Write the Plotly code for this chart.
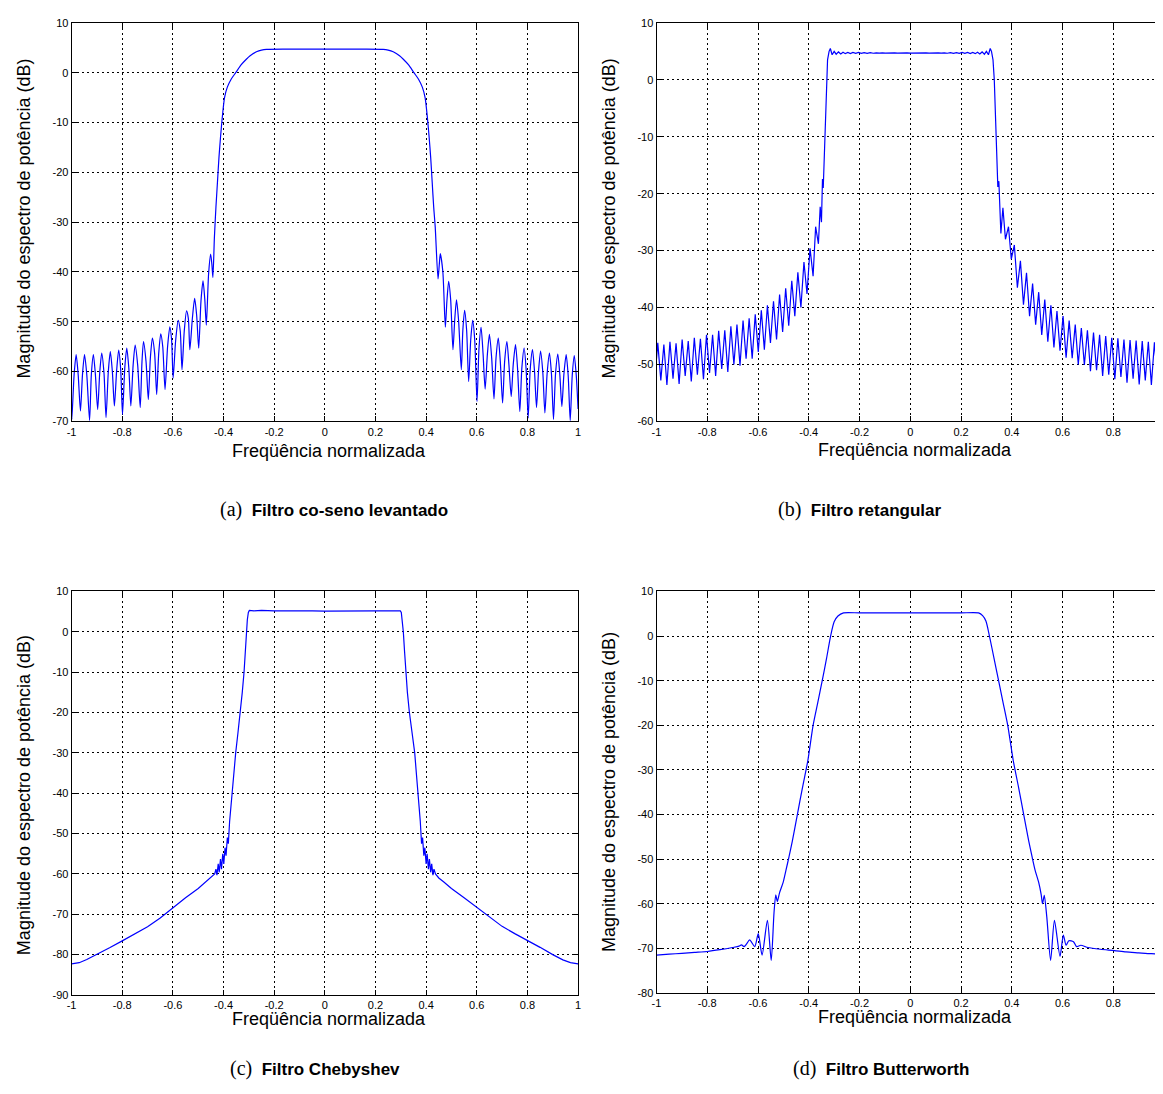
import plotly.graph_objects as go

# page is 1163x1094; the browser body has an 8px margin, so the figure is sized to fit exactly
OFF = 8
W, H = 1163 - OFF, 1094 - 2 * OFF

# ---------------- data ----------------
xticks = [-1, -0.8, -0.6, -0.4, -0.2, 0, 0.2, 0.4, 0.6, 0.8, 1]
xticktext = ["-1", "-0.8", "-0.6", "-0.4", "-0.2", "0", "0.2", "0.4", "0.6", "0.8", "1"]

# (a) raised cosine
a_x = [-1.000, -0.999, -0.990, -0.982, -0.974, -0.965, -0.957, -0.949, -0.940, -0.929,
       -0.922, -0.914, -0.906, -0.897, -0.889, -0.881, -0.872, -0.864, -0.855, -0.847,
       -0.839, -0.831, -0.822, -0.814, -0.806, -0.799, -0.790, -0.782, -0.774, -0.766,
       -0.757, -0.749, -0.739, -0.729, -0.722, -0.716, -0.706, -0.697, -0.689, -0.681,
       -0.672, -0.664, -0.656, -0.648, -0.640, -0.631, -0.621, -0.612, -0.605, -0.599,
       -0.589, -0.579, -0.571, -0.564, -0.555, -0.546, -0.539, -0.533, -0.523, -0.514,
       -0.506, -0.498, -0.489, -0.481, -0.474, -0.468, -0.459, -0.451, -0.446, -0.442,
       -0.436, -0.430, -0.424, -0.418, -0.412, -0.405, -0.396, -0.385, -0.370, -0.352,
       -0.330, -0.310, -0.295, -0.270, -0.250, -0.230, -0.150, 0.000, 0.150, 0.230,
       0.250, 0.270, 0.295, 0.310, 0.330, 0.352, 0.370, 0.385, 0.396, 0.405,
       0.412, 0.418, 0.424, 0.430, 0.436, 0.447, 0.452, 0.456, 0.466, 0.476,
       0.482, 0.489, 0.497, 0.506, 0.513, 0.520, 0.528, 0.539, 0.545, 0.552,
       0.560, 0.568, 0.576, 0.584, 0.592, 0.601, 0.609, 0.617, 0.625, 0.633,
       0.642, 0.650, 0.659, 0.668, 0.676, 0.685, 0.693, 0.702, 0.710, 0.719,
       0.727, 0.736, 0.744, 0.753, 0.761, 0.770, 0.778, 0.787, 0.795, 0.803,
       0.811, 0.820, 0.828, 0.836, 0.844, 0.852, 0.861, 0.869, 0.878, 0.887,
       0.895, 0.903, 0.911, 0.920, 0.928, 0.936, 0.944, 0.953, 0.961, 0.969,
       0.977, 0.985, 0.993, 1.000]
a_y = [-68.5, -69.6, -60.6, -56.6, -60.6, -67.9, -60.6, -56.6, -60.6, -69.8,
       -60.6, -56.6, -60.6, -67.6, -60.3, -56.3, -60.3, -69.2, -60.0, -56.0,
       -60.0, -66.9, -59.7, -55.7, -59.7, -68.6, -59.3, -55.3, -59.3, -66.9,
       -58.7, -54.7, -58.7, -67.2, -58.0, -54.0, -58.0, -65.6, -57.3, -53.3,
       -56.4, -64.6, -56.4, -52.4, -55.0, -63.6, -55.0, -51.0, -53.7, -61.3,
       -53.7, -49.7, -51.8, -59.6, -51.8, -47.8, -49.3, -55.6, -49.3, -45.3,
       -48.8, -55.3, -45.8, -41.8, -45.5, -50.7, -40.4, -36.4, -38.5, -41.1,
       -33.0, -27.0, -22.0, -17.0, -13.0, -9.0, -5.0, -2.9, -1.3, 0.0,
       1.6, 2.7, 3.4, 4.2, 4.55, 4.7, 4.75, 4.75, 4.75, 4.7,
       4.55, 4.2, 3.4, 2.7, 1.6, 0.0, -1.3, -2.9, -5.0, -9.0,
       -13.0, -17.0, -22.0, -27.0, -31.0, -41.4, -38.5, -36.3, -39.9, -51.1,
       -45.9, -41.9, -45.6, -55.6, -49.6, -45.6, -49.6, -59.6, -51.7, -47.7,
       -51.7, -62.0, -53.7, -49.7, -53.7, -66.0, -55.1, -51.1, -56.5, -63.5,
       -56.5, -52.5, -57.3, -65.5, -57.3, -53.3, -58.0, -66.3, -58.0, -54.0,
       -58.6, -65.0, -58.6, -54.6, -59.3, -68.0, -59.3, -55.3, -59.6, -69.3,
       -59.6, -55.6, -59.9, -67.2, -59.9, -55.9, -60.3, -68.3, -60.3, -56.3,
       -60.5, -69.6, -60.5, -56.5, -60.6, -67.0, -60.6, -56.6, -60.8, -69.8,
       -60.8, -56.8, -60.8, -67.5]

# (b) rectangular
b_x = [-1.000, -0.995, -0.983, -0.971, -0.959, -0.947, -0.935, -0.923, -0.911, -0.899,
       -0.887, -0.875, -0.863, -0.851, -0.839, -0.827, -0.815, -0.803, -0.791, -0.779,
       -0.767, -0.755, -0.743, -0.731, -0.719, -0.707, -0.695, -0.683, -0.671, -0.659,
       -0.647, -0.635, -0.623, -0.611, -0.599, -0.587, -0.575, -0.563, -0.551, -0.539,
       -0.527, -0.515, -0.503, -0.491, -0.479, -0.467, -0.455, -0.443, -0.431, -0.419,
       -0.407, -0.395, -0.383, -0.373, -0.362, -0.355, -0.350, -0.346, -0.343, -0.339,
       -0.335, -0.331, -0.326, -0.320, -0.315, -0.308, -0.300, -0.292, -0.283, -0.274,
       -0.265, -0.256, -0.246, -0.236, -0.226, -0.215, -0.204, -0.193, -0.182, -0.170,
       -0.158, -0.146, -0.134, -0.122, -0.110, -0.098, -0.086, -0.074, -0.062, -0.050,
       -0.038, -0.026, -0.013, 0.000, 0.013, 0.026, 0.038, 0.050, 0.062, 0.074,
       0.086, 0.098, 0.110, 0.122, 0.134, 0.146, 0.158, 0.170, 0.182, 0.193,
       0.204, 0.215, 0.226, 0.236, 0.246, 0.256, 0.265, 0.274, 0.283, 0.292,
       0.300, 0.308, 0.315, 0.320, 0.326, 0.331, 0.336, 0.341, 0.345, 0.349,
       0.357, 0.365, 0.375, 0.387, 0.398, 0.410, 0.422, 0.434, 0.446, 0.458,
       0.470, 0.482, 0.494, 0.506, 0.518, 0.530, 0.542, 0.554, 0.566, 0.578,
       0.590, 0.602, 0.614, 0.626, 0.638, 0.650, 0.662, 0.674, 0.686, 0.698,
       0.710, 0.722, 0.734, 0.746, 0.758, 0.770, 0.782, 0.794, 0.806, 0.818,
       0.830, 0.842, 0.854, 0.866, 0.878, 0.890, 0.902, 0.914, 0.926, 0.938,
       0.950, 0.962, 0.974, 0.986, 0.998]
b_y = [-49.0, -46.2, -52.8, -46.5, -53.6, -46.0, -52.5, -46.3, -53.4, -45.6,
       -52.0, -45.9, -53.0, -45.3, -51.8, -45.5, -52.6, -44.8, -51.5, -44.8,
       -52.0, -44.1, -50.8, -44.0, -51.3, -43.3, -50.0, -43.0, -50.2, -42.3,
       -49.0, -41.9, -49.0, -41.2, -47.8, -40.5, -47.4, -39.6, -46.2, -38.9,
       -45.6, -37.7, -44.3, -36.6, -43.2, -35.3, -41.5, -33.8, -40.0, -32.0,
       -37.6, -29.6, -34.5, -25.8, -28.8, -22.3, -25.0, -17.4, -19.0, -13.0,
       -6.0, 0.0, 3.5, 5.0, 5.5, 4.4, 5.0, 4.5, 4.9, 4.55,
       4.85, 4.6, 4.8, 4.6, 4.8, 4.65, 4.8, 4.65, 4.78, 4.66,
       4.76, 4.67, 4.75, 4.68, 4.75, 4.68, 4.74, 4.69, 4.74, 4.69,
       4.73, 4.7, 4.73, 4.7, 4.73, 4.7, 4.73, 4.69, 4.74, 4.69,
       4.74, 4.68, 4.75, 4.68, 4.75, 4.67, 4.76, 4.66, 4.78, 4.65,
       4.8, 4.65, 4.8, 4.6, 4.8, 4.6, 4.85, 4.55, 4.9, 4.5,
       5.0, 4.4, 5.5, 5.0, 3.5, 0.0, -6.0, -13.0, -18.8, -17.8,
       -27.0, -22.5, -28.0, -25.8, -31.5, -29.0, -36.5, -31.8, -39.5, -33.9,
       -41.5, -35.8, -43.0, -37.3, -44.8, -38.6, -46.0, -39.6, -47.0, -40.6,
       -47.6, -41.5, -48.8, -42.3, -48.9, -43.0, -50.0, -43.6, -50.1, -44.0,
       -51.2, -44.4, -51.0, -44.8, -52.0, -45.0, -51.8, -45.3, -52.6, -45.4,
       -52.2, -45.6, -53.2, -45.7, -52.5, -45.8, -53.5, -45.9, -52.8, -46.0,
       -53.6, -46.1, -52.6, -46.1, -53.0]

# (c) Chebyshev
c_x = [-1.00, -0.97, -0.94, -0.90, -0.85, -0.80, -0.75, -0.70, -0.65, -0.60,
       -0.55, -0.50, -0.47, -0.45, -0.435, -0.430, -0.426, -0.421, -0.417, -0.412,
       -0.408, -0.403, -0.399, -0.394, -0.390, -0.385, -0.381, -0.376, -0.368, -0.360,
       -0.352, -0.343, -0.334, -0.326, -0.319, -0.314, -0.310, -0.306, -0.302, -0.298,
       -0.28, -0.25, -0.20, -0.15, -0.10, -0.05, 0.00, 0.05, 0.10, 0.15,
       0.20, 0.25, 0.28, 0.298, 0.302, 0.306, 0.310, 0.315, 0.319, 0.326,
       0.334, 0.344, 0.355, 0.362, 0.370, 0.377, 0.382, 0.386, 0.391, 0.395,
       0.400, 0.404, 0.409, 0.413, 0.418, 0.422, 0.427, 0.431, 0.437, 0.45,
       0.47, 0.50, 0.55, 0.60, 0.65, 0.70, 0.75, 0.80, 0.85, 0.90,
       0.94, 0.97, 1.00]
c_y = [-82.3, -82.0, -81.2, -80.0, -78.3, -76.6, -74.9, -73.1, -70.9, -68.3,
       -65.9, -63.6, -62.0, -61.0, -60.0, -58.8, -60.3, -57.5, -59.6, -56.3,
       -58.8, -55.0, -57.5, -53.5, -55.5, -51.0, -52.5, -47.0, -41.0, -35.5,
       -30.0, -25.0, -20.0, -15.0, -10.0, -5.0, 0.0, 3.0, 4.8, 5.3,
       5.2, 5.3, 5.2, 5.25, 5.15, 5.2, 5.15, 5.2, 5.15, 5.25,
       5.2, 5.2, 5.25, 5.2, 4.8, 3.0, 0.0, -5.0, -10.0, -15.0,
       -20.0, -25.0, -30.0, -35.5, -41.0, -47.0, -52.5, -51.0, -55.5, -53.5,
       -57.5, -55.0, -58.8, -56.3, -59.6, -57.5, -60.3, -58.8, -60.0, -61.0,
       -62.0, -63.6, -65.9, -68.3, -70.6, -73.0, -74.8, -76.4, -78.2, -80.0,
       -81.3, -82.0, -82.3]

# (d) Butterworth
d_x = [-1.00, -0.95, -0.90, -0.85, -0.80, -0.75, -0.70, -0.675, -0.665, -0.655,
       -0.645, -0.633, -0.613, -0.599, -0.584, -0.563, -0.548, -0.537, -0.530, -0.524,
       -0.515, -0.501, -0.490, -0.478, -0.465, -0.445, -0.425, -0.404, -0.383, -0.365,
       -0.347, -0.330, -0.314, -0.300, -0.285, -0.263, -0.20, -0.10, 0.00, 0.10,
       0.20, 0.269, 0.285, 0.298, 0.312, 0.330, 0.348, 0.366, 0.384, 0.406,
       0.427, 0.447, 0.467, 0.480, 0.492, 0.506, 0.516, 0.521, 0.528, 0.538,
       0.553, 0.568, 0.590, 0.603, 0.614, 0.625, 0.643, 0.655, 0.672, 0.70,
       0.75, 0.804, 0.85, 0.90, 0.95, 1.00]
d_y = [-71.5, -71.3, -71.1, -70.9, -70.7, -70.3, -69.8, -69.5, -69.2, -69.6,
       -69.0, -68.1, -69.6, -66.7, -71.5, -63.7, -72.7, -62.0, -58.0, -59.5,
       -57.5, -55.2, -52.5, -49.5, -46.0, -40.0, -34.0, -28.0, -20.0, -15.0,
       -10.0, -5.0, 0.0, 3.2, 4.5, 5.2, 5.2, 5.2, 5.2, 5.2,
       5.2, 5.2, 4.6, 3.4, 0.0, -5.0, -10.0, -15.0, -20.0, -28.0,
       -34.0, -40.0, -46.0, -49.5, -52.5, -55.2, -58.0, -60.0, -58.1, -63.0,
       -72.7, -63.7, -71.8, -67.0, -69.3, -68.3, -68.5, -69.6, -69.3, -69.8,
       -70.2, -70.5, -70.8, -71.0, -71.2, -71.3]

# positions below are page pixels (converted to figure fractions using OFF)
panels = [
    dict(x=a_x, y=a_y, yticks=[10, 0, -10, -20, -30, -40, -50, -60, -70], yr=[-70, 10],
         px=(67, 577), py=(17, 420), xr=[-1, 1], shape="spline", mirror_y="ticks",
         cap_label="(a)", cap="Filtro co-seno levantado", cap_xy=(331, 509),
         xt_xy=(326, 450), yt_xy=(19, 215)),
    dict(x=b_x, y=b_y, yticks=[10, 0, -10, -20, -30, -40, -50, -60], yr=[-60, 10],
         px=(656, 1163), py=(17, 420), xr=[-1, 0.984], shape="linear", mirror_y=False,
         cap_label="(b)", cap="Filtro retangular", cap_xy=(861, 509),
         xt_xy=(916, 449), yt_xy=(608, 215)),
    dict(x=c_x, y=c_y, yticks=[10, 0, -10, -20, -30, -40, -50, -60, -70, -80, -90], yr=[-90, 10],
         px=(67, 577), py=(592, 1000), xr=[-1, 1], shape="linear", mirror_y="ticks",
         cap_label="(c)", cap="Filtro Chebyshev", cap_xy=(312, 1074),
         xt_xy=(326, 1024), yt_xy=(19, 798)),
    dict(x=d_x, y=d_y, yticks=[10, 0, -10, -20, -30, -40, -50, -60, -70, -80], yr=[-80, 10],
         px=(656, 1163), py=(592, 998), xr=[-1, 0.984], shape="spline", mirror_y=False,
         cap_label="(d)", cap="Filtro Butterworth", cap_xy=(882, 1074),
         xt_xy=(916, 1022), yt_xy=(608, 795)),
]


def fx(px):
    return min(1.0, max(0.0, (px - OFF) / W))


def fy(py):
    return min(1.0, max(0.0, 1 - (py - OFF) / H))


fig = go.Figure()
layout = dict(width=W, height=H, autosize=False, margin=dict(l=0, r=0, t=0, b=0, pad=0),
              paper_bgcolor="white", plot_bgcolor="white", showlegend=False,
              font=dict(family="Liberation Sans, Arial, sans-serif", color="black"))
annotations = []
SANS = "Liberation Sans, Arial, sans-serif"

for i, p in enumerate(panels, start=1):
    sfx = "" if i == 1 else str(i)
    line = dict(color="rgb(0,0,255)", width=1.2, shape=p["shape"])
    if p["shape"] == "spline":
        line["smoothing"] = 0.7
    fig.add_trace(go.Scatter(x=p["x"], y=p["y"], mode="lines", line=line,
                             xaxis="x" + sfx, yaxis="y" + sfx, hoverinfo="skip"))
    x0, x1 = p["px"]
    y0, y1 = p["py"]
    common = dict(showgrid=True, gridcolor="black", gridwidth=1, griddash="2px,3px",
                  zeroline=False, showline=True, linecolor="black", linewidth=1,
                  ticks="inside", ticklen=5, tickwidth=1, tickcolor="black",
                  tickfont=dict(size=11, family=SANS, color="black"))
    layout["xaxis" + sfx] = dict(common, domain=[fx(x0), fx(x1)], range=p["xr"],
                                 tickmode="array", tickvals=xticks, ticktext=xticktext,
                                 anchor="y" + sfx, mirror="ticks")
    layout["yaxis" + sfx] = dict(common, domain=[fy(y1), fy(y0)], range=p["yr"],
                                 tickmode="array", tickvals=p["yticks"],
                                 ticktext=[str(v) for v in p["yticks"]],
                                 anchor="x" + sfx, mirror=p["mirror_y"])
    annotations.append(dict(text="Freqüência normalizada", x=fx(p["xt_xy"][0]), y=fy(p["xt_xy"][1]),
                            xref="paper", yref="paper", showarrow=False, xanchor="center", yanchor="middle",
                            font=dict(size=18, family=SANS, color="black")))
    annotations.append(dict(text="Magnitude do espectro de potência (dB)", x=fx(p["yt_xy"][0]),
                            y=fy(p["yt_xy"][1]), xref="paper", yref="paper", showarrow=False,
                            textangle=-90, xanchor="center", yanchor="middle",
                            font=dict(size=18, family=SANS, color="black")))
    cap_text = ('<span style="font-family:\'Liberation Serif\', \'DejaVu Serif\', serif;font-weight:normal;font-size:20px">'
                + p["cap_label"] + '</span>  <b>' + p["cap"] + '</b>')
    annotations.append(dict(text=cap_text, x=fx(p["cap_xy"][0]), y=fy(p["cap_xy"][1]),
                            xref="paper", yref="paper", showarrow=False, xanchor="center", yanchor="middle",
                            font=dict(size=17, family=SANS, color="black")))

layout["annotations"] = annotations
fig.update_layout(**layout)
fig.write_html("out.html")
